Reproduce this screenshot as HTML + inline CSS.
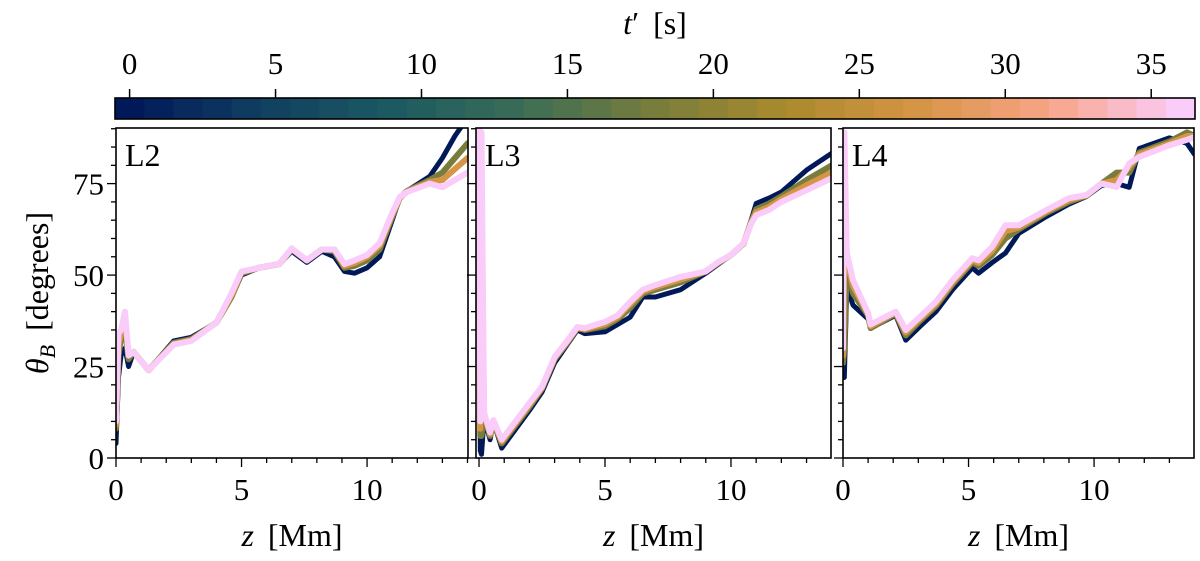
<!DOCTYPE html>
<html><head><meta charset="utf-8"><style>
body{margin:0;background:#fff}
svg{display:block;font-family:"Liberation Serif",serif}
</style></head><body>
<svg id="chart" width="1200" height="561" viewBox="0 0 1200 561" xmlns="http://www.w3.org/2000/svg"></svg>
<script>
// ---- data ----
const cbTicks = [0,5,10,15,20,25,30,35];
const cbBins = 37;
const seriesTimes = [0, 18, 27, 36];
const yTicks = [0,25,50,75];
const xTicks = [0,5,10];
const panelNames = ["L2","L3","L4"];

const zL2 =    [0,0.1,0.2,0.36,0.5,0.7,1.3,2.3,3.0,4.0,4.6,5.0,5.7,6.5,7.0,7.6,8.2,8.7,9.1,9.5,10.0,10.5,11.0,11.3,11.6,12.5,13.0,13.5,14.0];
const L2t0 =   [4,22,28,30,25,29,24,32,33,37,44,50,52,53,56.5,53.5,56.5,55,51,50.5,52,55,65,71,73,77,82,88,93];
const L2t18 =  [8,28,33,35,27,29,24,31.5,32.5,37,44,50.5,52,53,57,54,57,56.5,52,52.5,54,57,66,71,73,76,78,82,86];
const L2t27 =  [9,31,34,38,28,29,24,31.2,32.2,37,44.5,50.8,52,53,57.2,54,57,57,52.5,53.3,55,58,66.5,71.2,72.8,75.5,76,79,82];
const L2t36 =  [10,34,35,40,28,29,24,31,32,37,45,51,52,53,57.3,54,57,57,53,54,55.5,58.7,67,71.3,72.7,75,74,76,78];

const zL3 =    [0,0.05,0.1,0.2,0.44,0.57,0.9,2.0,2.5,3.0,3.5,3.9,4.2,5.0,5.5,6.0,6.5,7.0,8.0,9.0,9.5,10.0,10.5,10.8,11.0,11.5,12.0,13.0,14.0];
const L3t0 =   [90,2,1,11,5,10,2.7,13,18,26,31,35,34,34.5,36.5,38.5,44,44,46,50.5,53,55.5,58.5,65,69.6,71,72.7,78.7,83.3];
const L3t18 =  [90,6,6,12,6,10,4,14,19,27,31.5,35.5,35,36,38,41,45,46,48,51,53.3,55.5,58.6,64.5,68,69.5,71.5,76,80];
const L3t27 =  [90,8,60,12,6.5,10.2,4.5,14.5,19.2,27.3,31.8,35.6,35.2,36.6,38.5,42,45.5,46.7,48.8,51,53.5,55.5,58.6,64.2,67.2,68.6,70.8,74.6,78];
const L3t36 =  [90,10,89,12.3,7,10.4,5,15,19.5,27.6,32,35.8,35.5,37.2,39,42.7,46,47.3,49.5,51,53.6,55.5,58.7,64,66.4,67.8,70,73.2,76.5];

const zL4 =    [0,0.05,0.15,0.4,1.0,1.1,2.1,2.5,3.07,3.7,4.36,5.15,5.4,5.94,6.47,7.0,8.1,9.0,9.7,10.3,10.9,11.4,11.8,13.0,13.7,14.0];
const L4t0 =   [22,22,46.7,41.8,38,35.5,39,32.2,36,40,46,52,50.5,53.4,56,61.4,66,69.4,71.5,74.5,75,74,84.6,87.5,86,83];
const L4t18 =  [26,30,52,45,39,35.5,39.5,33.5,37.5,41.5,47.5,53.5,52.5,55.5,60,62.5,67,70,71.7,75,78,78,83.5,86.5,89,88];
const L4t27 =  [28,60,54,47,39.3,36,39.8,34.3,38,42,48,54,53.3,56.6,62,63,67.4,70.5,71.8,75,76,79.5,83,86,88,88];
const L4t36 =  [30,89,56,48.6,39.6,36.5,40,35,38.6,42.7,48.6,54.6,54,57.7,63.6,63.6,67.8,71,71.9,75,74.1,80.5,82.3,85.5,87,87.7];

const panelZ = [zL2, zL3, zL4];
const panelSeries = [[L2t0,L2t18,L2t27,L2t36],[L3t0,L3t18,L3t27,L3t36],[L4t0,L4t18,L4t27,L4t36]];

// ---- layout ----
const NS = "http://www.w3.org/2000/svg";
const svg = document.getElementById('chart');
const panels = [
  {x0:116, x1:468, zmin:0, zmax:14.02},
  {x0:476, x1:831, zmin:-0.12, zmax:13.97},
  {x0:843, x1:1194, zmin:0, zmax:13.98}
];
const yTop = 128, yBot = 458, degMax = 90.2;
function yScale(d){ return yBot - d/degMax*(yBot-yTop); }
function xScale(p,z){ return p.x0 + (z-p.zmin)/(p.zmax-p.zmin)*(p.x1-p.x0); }
const cb = {x0:115, x1:1195, y0:98, y1:119, tmin:-0.5, tmax:36.5};
function cbX(t){ return cb.x0 + (t-cb.tmin)/(cb.tmax-cb.tmin)*(cb.x1-cb.x0); }

const stops = [[0,[1,25,89]],[0.125,[16,63,96]],[0.25,[28,90,98]],[0.375,[60,109,86]],[0.5,[120,125,60]],[0.625,[170,138,45]],[0.75,[214,148,70]],[0.875,[248,165,135]],[1,[250,204,250]]];
function cmap(f){
  for(let i=1;i<stops.length;i++){ if(f<=stops[i][0]){ const a=stops[i-1],b=stops[i]; const u=(f-a[0])/(b[0]-a[0]); const c=a[1].map((v,k)=>Math.round(v+(b[1][k]-v)*u)); return `rgb(${c[0]},${c[1]},${c[2]})`; } }
  return 'rgb(250,204,250)';
}
function el(tag, attrs, parent){ const e=document.createElementNS(NS,tag); for(const k in attrs) e.setAttribute(k,attrs[k]); (parent||svg).appendChild(e); return e; }

// colorbar
for(let i=0;i<cbBins;i++){
  const r = el('rect',{x:cbX(i-0.5),y:cb.y0,width:cbX(i+0.5)-cbX(i-0.5)+0.6,height:cb.y1-cb.y0,fill:cmap(i/(cbBins-1))});
  
  
}
const cbf = el('rect',{x:cb.x0,y:cb.y0,width:cb.x1-cb.x0,height:cb.y1-cb.y0,fill:'none',stroke:'#000','stroke-width':1.6});


cbTicks.forEach(t=>{
  const x=cbX(t);
  const tk=el('line',{x1:x,x2:x,y1:cb.y0,y2:cb.y0-9,stroke:'#000','stroke-width':1.5});
  
  
  const tx=el('text',{x:x,y:74,'font-size':31,'text-anchor':'middle'});
  tx.textContent=t;
  
  
});
const cbt = el('text',{x:655,y:34,'font-size':32,'text-anchor':'middle'});
cbt.innerHTML='<tspan font-style="italic">t</tspan><tspan>′</tspan><tspan dx="14">[s]</tspan>';



// panels
panels.forEach((p,pi)=>{
  const g = el('g',{});
  
  
  const cid='clip'+pi;
  const cp = el('clipPath',{id:cid},g);
  el('rect',{x:p.x0,y:yTop,width:p.x1-p.x0,height:yBot-yTop},cp);
  const lg = el('g',{'clip-path':`url(#${cid})`},g);
  panelSeries[pi].forEach((vals,si)=>{
    const pts = panelZ[pi].map((z,k)=>xScale(p,z).toFixed(1)+','+yScale(vals[k]).toFixed(1)).join(' ');
    const pl = el('polyline',{points:pts,fill:'none',stroke:cmap(seriesTimes[si]/36),'stroke-width':si===0?5:6,'stroke-linejoin':'round','stroke-linecap':'round'},lg);
    
    
  });
  const fr = el('rect',{x:p.x0,y:yTop,width:p.x1-p.x0,height:yBot-yTop,fill:'none',stroke:'#000','stroke-width':1.6},g);
  
  
  for(let d=0; d<=90; d+=5){
    const y=yScale(d), major = yTicks.includes(d);
    const tk=el('line',{x1:p.x0,x2:p.x0-(major?9:5),y1:y,y2:y,stroke:'#000','stroke-width':1.3},g);
    
    
    if(major && pi===0){
      const t=el('text',{x:p.x0-12,y:y+11,'font-size':31,'text-anchor':'end'},g);
      t.textContent=d;
      
      
    }
  }
  for(let z=0; z<=p.zmax; z+=1){
    const x=xScale(p,z), major = xTicks.includes(z);
    const tk=el('line',{x1:x,x2:x,y1:yBot,y2:yBot+(major?9:5),stroke:'#000','stroke-width':1.3},g);
    
    
    if(major){
      const t=el('text',{x:x,y:yBot+42,'font-size':31,'text-anchor':'middle'},g);
      t.textContent=z;
      
      
    }
  }
  const lb=el('text',{x:p.x0+9,y:yTop+38,'font-size':32},g);
  lb.textContent=panelNames[pi];
  
  
  const xl=el('text',{x:(p.x0+p.x1)/2,y:546,'font-size':32,'text-anchor':'middle'},g);
  xl.innerHTML='<tspan font-style="italic">z</tspan><tspan dx="14">[Mm]</tspan>';
  
  
});
const yl = el('text',{x:0,y:0,'font-size':32,'text-anchor':'middle',transform:'translate(48,293) rotate(-90)'});
yl.innerHTML='<tspan font-style="italic">θ</tspan><tspan font-style="italic" font-size="22" dy="7">B</tspan><tspan dy="-7" dx="14">[degrees]</tspan>';


</script>
</body></html>
